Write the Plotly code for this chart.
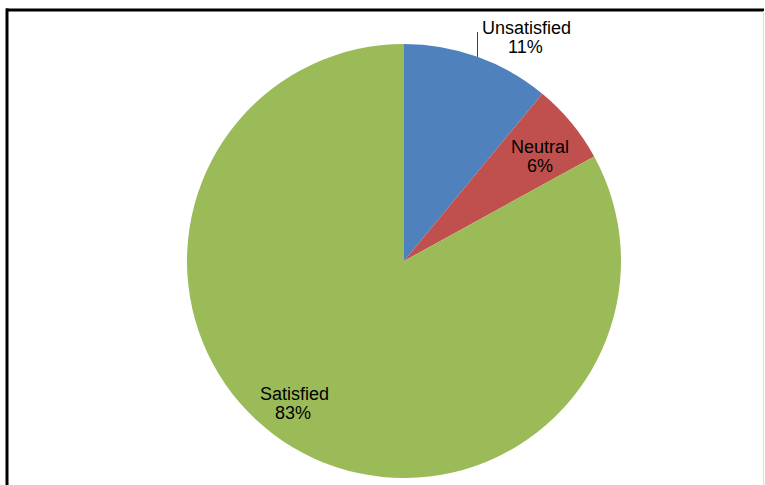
import plotly.graph_objects as go
import math

# Survey responses (percent of respondents)
categories = ["Unsatisfied", "Neutral", "Satisfied"]
shares = [11, 6, 83]
colors = ["#4F81BD", "#C0504D", "#9BBB59"]

W, H = 765, 485
CX, CY, R = 404, 261, 217  # pie centre and radius in pixels


def px(x):
    return x / W


def py(y):
    return 1 - y / H


fig = go.Figure(
    go.Pie(
        labels=categories,
        values=shares,
        marker=dict(colors=colors, line=dict(width=0)),
        sort=False,
        direction="clockwise",
        rotation=0,
        textinfo="none",
        hoverinfo="label+percent",
        showlegend=False,
        domain=dict(x=[px(CX - R), px(CX + R)], y=[py(CY + R), py(CY - R)]),
    )
)

# Label anchor points (pixel centres) for name line and value line
label_pos = {
    "Unsatisfied": ((526, 28), (525, 47)),
    "Neutral": ((540, 147), (540, 166)),
    "Satisfied": ((294, 394), (293, 413)),
}

font = dict(family="Liberation Sans, Arial, sans-serif", size=18, color="#000000")
annotations = []
for name, val in zip(categories, shares):
    (nx, ny), (vx, vy) = label_pos[name]
    annotations.append(dict(x=px(nx), y=py(ny), xref="paper", yref="paper", text=name,
                            showarrow=False, font=font, xanchor="center", yanchor="middle"))
    annotations.append(dict(x=px(vx), y=py(vy), xref="paper", yref="paper", text=f"{val}%",
                            showarrow=False, font=font, xanchor="center", yanchor="middle"))

# Leader line from the middle of the first slice's outer edge up to its label
mid_angle = math.radians(shares[0] / sum(shares) * 360 / 2)
ex = CX + R * math.sin(mid_angle)
ey = CY - R * math.cos(mid_angle)

shapes = [
    dict(type="line", xref="paper", yref="paper", x0=px(ex), y0=py(ey), x1=px(477.5), y1=py(32),
         line=dict(color="#404040", width=1)),
    # chart frame
    dict(type="line", xref="paper", yref="paper", x0=px(6), y0=py(10), x1=px(764), y1=py(10),
         line=dict(color="#000000", width=3)),
    dict(type="line", xref="paper", yref="paper", x0=px(7), y0=py(8.5), x1=px(7), y1=py(485),
         line=dict(color="#000000", width=3)),
    dict(type="line", xref="paper", yref="paper", x0=px(763.5), y0=py(11), x1=px(763.5), y1=py(485),
         line=dict(color="#DDDDDD", width=1)),
]

fig.update_layout(
    width=W,
    height=H,
    margin=dict(l=0, r=0, t=0, b=0),
    paper_bgcolor="#FFFFFF",
    plot_bgcolor="#FFFFFF",
    annotations=annotations,
    shapes=shapes,
)

fig.write_html("out.html")
